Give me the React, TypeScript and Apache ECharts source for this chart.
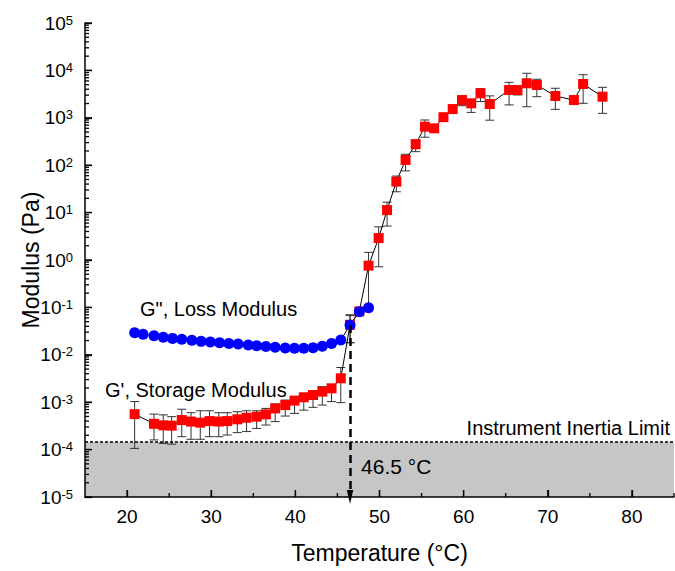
import React, { useEffect, useRef } from "react";
import * as echarts from "echarts";

// G' (storage modulus) – red squares
const gpTemp = [20.9, 23.2, 24.3, 25.3, 26.5, 27.6, 28.7, 29.8, 30.9, 31.9, 33.1, 34.2, 35.4, 36.5, 37.6, 38.8, 39.9, 41.0, 42.1, 43.2, 44.3, 45.4, 46.5, 47.6, 48.7, 49.9, 50.9, 52.0, 53.1, 54.3, 55.4, 56.5, 57.6, 58.7, 59.8, 60.9, 62.0, 63.1, 65.4, 66.4, 67.5, 68.7, 70.9, 73.1, 74.2, 76.5];
const gpValue = [5.6e-4, 3.5e-4, 3.25e-4, 3.2e-4, 4.2e-4, 3.9e-4, 3.7e-4, 4.0e-4, 3.9e-4, 4.0e-4, 4.35e-4, 4.7e-4, 4.95e-4, 5.55e-4, 7.4e-4, 8.7e-4, 1.08e-3, 1.27e-3, 1.42e-3, 1.67e-3, 1.96e-3, 3.2e-3, 0.043, 0.082, 0.76, 2.9, 11.3, 45, 129, 277, 650, 600, 1030, 1530, 2370, 2020, 3290, 1950, 3860, 3860, 5350, 4920, 2880, 2370, 5170, 2790];
const gpLow = [1.06e-4, 1.6e-4, 1.35e-4, 1.3e-4, 1.87e-4, 1.65e-4, 1.65e-4, 1.87e-4, 1.87e-4, 2.03e-4, 2.28e-4, 2.4e-4, 2.8e-4, 3.3e-4, 3.9e-4, 5.1e-4, 5.8e-4, 6.8e-4, 7.8e-4, 8.7e-4, 1.03e-3, 9.8e-4, 0.018, 0.075, 0.1, 0.72, 5.2, 27.5, 76, 193, 390, 500, 900, 1350, 1800, 1300, 2200, 890, 1870, 3030, 1710, 2790, 1510, 2100, 2020, 1240];
const gpHigh = [1.03e-3, 5.6e-4, 5.4e-4, 4.95e-4, 7.1e-4, 6.0e-4, 6.6e-4, 6.6e-4, 6.0e-4, 6.0e-4, 6.3e-4, 6.6e-4, 6.6e-4, 7.4e-4, 9.2e-4, 1.11e-3, 1.31e-3, 1.47e-3, 1.75e-3, 2.13e-3, 2.3e-3, 5.4e-3, 0.07, 0.1, 1.45, 5.0, 16.6, 59, 170, 340, 900, 720, 1150, 1750, 2800, 2400, 4100, 2900, 5600, 4540, 8700, 6500, 4200, 2700, 8100, 4400];

// G'' (loss modulus) – blue circles
const gppTemp = [20.9, 21.9, 23.2, 24.3, 25.4, 26.5, 27.7, 28.8, 29.9, 31.0, 32.1, 33.2, 34.4, 35.4, 36.5, 37.6, 38.8, 39.9, 41.0, 42.1, 43.2, 44.3, 45.4, 46.5, 47.6, 48.7];
const gppValue = [0.0293, 0.027, 0.0253, 0.0234, 0.0222, 0.0212, 0.0202, 0.0192, 0.0186, 0.018, 0.0174, 0.0169, 0.0161, 0.0156, 0.0149, 0.0144, 0.0139, 0.0137, 0.0137, 0.0141, 0.0151, 0.0174, 0.0205, 0.0425, 0.081, 0.0986];
const gppErrTemp = [46.5, 47.6, 48.7];
const gppErrLow = [0.018, 0.07, 0.085];
const gppErrHigh = [0.067, 0.09, 0.11];

// annotations
const crossoverTemp = 46.5;
const crossoverValue = 0.0425;
const inertiaLimit = 1.45e-4;
const crossoverLabelValue = 4.3e-5;
const tempMin = 15;
const tempMax = 85;
const modMin = 1e-5;
const modMax = 1e5;

const xMajorTicks = [20, 30, 40, 50, 60, 70, 80];
const xMinorTicks = [25, 35, 45, 55, 65, 75, 85];
const yDecadeExponents = [-5, -4, -3, -2, -1, 0, 1, 2, 3, 4, 5];

const FONT = "'Liberation Sans', Arial, sans-serif";
const GRID = { left: 85, right: 1, top: 23, bottom: 74 };
const W = 675;
const H = 571;

export default function App() {
  const ref = useRef<HTMLDivElement>(null);
  useEffect(() => {
    if (!ref.current) return;
    const chart = echarts.init(ref.current, null, { renderer: "svg" });
    const yMajor = yDecadeExponents.map((e) => Math.pow(10, e));
    const yMinor: number[] = [];
    for (let e = -5; e < 5; e++) {
      for (let k = 2; k <= 9; k++) yMinor.push(k * Math.pow(10, e));
    }
    const errRender = (params: any, api: any) => {
      const x = api.value(0);
      const lo = api.value(1);
      const hi = api.value(2);
      const p1 = api.coord([x, hi]);
      const p2 = api.coord([x, lo]);
      const w = 4.5;
      const style = { stroke: "#333", lineWidth: 1 };
      return {
        type: "group",
        children: [
          { type: "line", shape: { x1: p1[0], y1: p1[1], x2: p2[0], y2: p2[1] }, style },
          { type: "line", shape: { x1: p1[0] - w, y1: p1[1], x2: p1[0] + w, y2: p1[1] }, style },
          { type: "line", shape: { x1: p2[0] - w, y1: p2[1], x2: p2[0] + w, y2: p2[1] }, style },
        ],
      };
    };
    // Tick marks: each item gives a tick value on one axis; the other coordinate is an
    // interior value, and the axis edge is taken from the coordinate system rectangle.
    // columns: [x value, y value, axis (0 = x, 1 = y), length]
    const tickRender = (params: any, api: any) => {
      const cs = params.coordSys;
      const axis = api.value(2);
      const len = api.value(3);
      const p = api.coord([api.value(0), api.value(1)]);
      const style = { stroke: "#000", lineWidth: 1.3 };
      const bottom = cs.y + cs.height;
      const shape =
        axis === 0
          ? { x1: p[0], y1: bottom, x2: p[0], y2: bottom - len }
          : { x1: cs.x, y1: p[1], x2: cs.x + len, y2: p[1] };
      return { type: "group", children: [{ type: "line", shape, style }] };
    };
    const midTemp = 50;
    const midMod = 1;
    const tickData: number[][] = [
      ...xMajorTicks.map((v) => [v, midMod, 0, 7]),
      ...xMinorTicks.map((v) => [v, midMod, 0, 4]),
      ...yMajor.map((v) => [midTemp, v, 1, 7]),
      ...yMinor.map((v) => [midTemp, v, 1, 4]),
    ];
    const option: any = {
      animation: false,
      textStyle: { fontFamily: FONT, color: "#000" },
      grid: { ...GRID, containLabel: false, outerBoundsMode: "none" },
      xAxis: {
        type: "value",
        min: tempMin,
        max: tempMax,
        position: "bottom",
        name: "Temperature (°C)",
        nameLocation: "middle",
        nameGap: 44,
        nameMoveOverlap: false,
        nameTextStyle: { fontSize: 23, color: "#000", fontFamily: FONT },
        axisLine: { show: true, onZero: false, lineStyle: { color: "#000", width: 1.5 } },
        axisTick: { show: true, inside: true, length: 7, customValues: xMajorTicks, lineStyle: { color: "#000", width: 1.3 } },
        axisLabel: { show: true, customValues: xMajorTicks, fontSize: 19, color: "#000", margin: 10, fontFamily: FONT },
        splitLine: { show: false },
        z: 4,
      },
      yAxis: {
        type: "log",
        logBase: 10,
        min: modMin,
        max: modMax,
        position: "left",
        name: "Modulus (Pa)",
        nameLocation: "middle",
        nameGap: 43,
        nameMoveOverlap: false,
        nameTextStyle: { fontSize: 23, color: "#000", fontFamily: FONT },
        axisLine: { show: true, onZero: false, lineStyle: { color: "#000", width: 1.5 } },
        axisTick: { show: true, inside: true, length: 7, customValues: yMajor, lineStyle: { color: "#000", width: 1.3 } },
        axisLabel: {
          show: true,
          customValues: yMajor,
          margin: 12,
          formatter: (v: number) => `{b|10}{e|${Math.round(Math.log10(v))}}`,
          rich: {
            b: { fontSize: 19, fontFamily: FONT, color: "#000", verticalAlign: "bottom", lineHeight: 19, padding: [7, 0, 0, 0] },
            e: { fontSize: 13, fontFamily: FONT, color: "#000", verticalAlign: "top", lineHeight: 13 },
          },
        },
        splitLine: { show: false },
        z: 4,
      },
      graphic: [
        {
          type: "text",
          left: 140,
          top: 299,
          style: { text: 'G", Loss Modulus', fontSize: 20, fontFamily: FONT, fill: "#000" },
          z: 10,
        },
        {
          type: "text",
          left: 105,
          top: 380,
          style: { text: "G', Storage Modulus", fontSize: 20, fontFamily: FONT, fill: "#000" },
          z: 10,
        },
      ],
      series: [
        {
          name: "annotations",
          type: "line",
          data: [],
          silent: true,
          markArea: {
            silent: true,
            itemStyle: { color: "#c6c6c6" },
            data: [[{ coord: [tempMin, modMin] }, { coord: [tempMax, inertiaLimit] }]],
          },
          markLine: {
            silent: true,
            symbol: ["none", "path://M5,0L10,22L0,22Z"],
            symbolSize: [10, 14],
            symbolKeepAspect: true,
            lineStyle: { color: "#000", type: [8, 5], width: 2.5 },
            label: { show: false },
            data: [
              [
                { coord: [crossoverTemp, crossoverValue] },
                { coord: [crossoverTemp, modMin] },
              ],
            ],
          },
          markPoint: {
            silent: true,
            symbol: "circle",
            symbolSize: 0,
            data: [
              {
                coord: [crossoverTemp, crossoverLabelValue],
                label: {
                  show: true,
                  position: "right",
                  distance: 11,
                  formatter: "46.5 °C",
                  fontSize: 21,
                  fontFamily: FONT,
                  color: "#000",
                },
              },
            ],
          },
        },
        {
          name: "inertia",
          type: "line",
          data: [],
          silent: true,
          markLine: {
            silent: true,
            symbol: ["none", "none"],
            lineStyle: { color: "#000", type: [3, 2], width: 1.5 },
            label: {
              show: true,
              position: "insideEndTop",
              formatter: "Instrument Inertia Limit",
              fontSize: 20,
              fontFamily: FONT,
              color: "#000",
              distance: 4,
            },
            data: [[{ coord: [tempMin, inertiaLimit] }, { coord: [tempMax, inertiaLimit] }]],
          },
        },
        {
          name: "ticks",
          type: "custom",
          renderItem: tickRender,
          encode: { x: 0, y: 1 },
          data: tickData,
          silent: true,
          z: 6,
        },
        {
          name: "G' error",
          type: "custom",
          renderItem: errRender,
          encode: { x: 0, y: [1, 2] },
          data: gpTemp.map((t, i) => [t, gpLow[i], gpHigh[i]]),
          silent: true,
        },
        {
          name: "G'' error",
          type: "custom",
          renderItem: errRender,
          encode: { x: 0, y: [1, 2] },
          data: gppErrTemp.map((t, i) => [t, gppErrLow[i], gppErrHigh[i]]),
          silent: true,
        },
        {
          name: "G'",
          type: "line",
          data: gpTemp.map((t, i) => [t, gpValue[i]]),
          symbol: "rect",
          symbolSize: 10,
          showAllSymbol: true,
          itemStyle: { color: "#ff0000" },
          lineStyle: { color: "#000", width: 1 },
        },
        {
          name: "G''",
          type: "line",
          data: gppTemp.map((t, i) => [t, gppValue[i]]),
          symbol: "circle",
          symbolSize: 11,
          showAllSymbol: true,
          itemStyle: { color: "#0000ff" },
          lineStyle: { color: "#000", width: 1 },
        },
      ],
    };
    chart.setOption(option);
    return () => chart.dispose();
  }, []);
  return (
    <div
      ref={ref}
      style={{ position: "fixed", left: 0, top: 0, width: W, height: H, background: "#fff" }}
    />
  );
}
